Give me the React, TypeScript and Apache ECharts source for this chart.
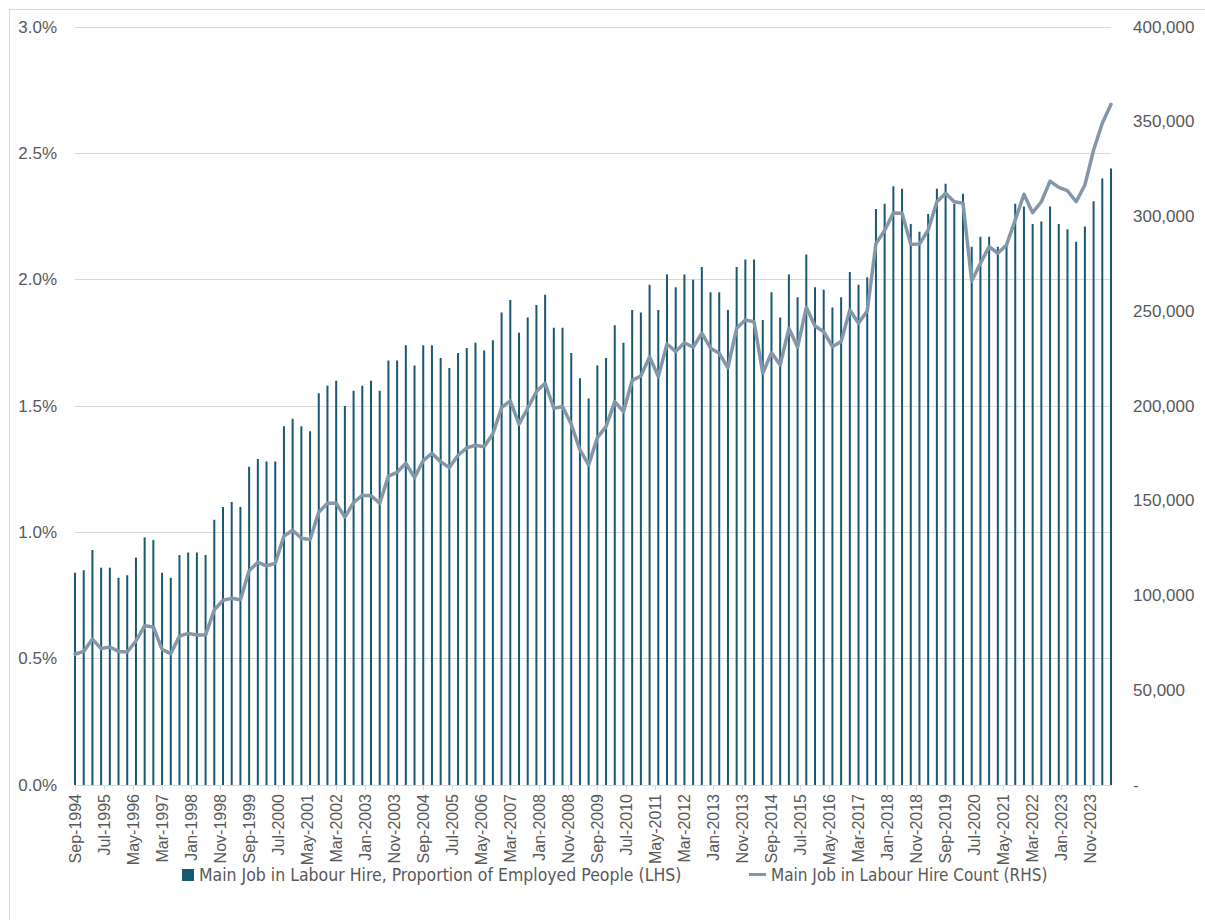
import React, { useEffect, useRef } from "react";
import * as echarts from "echarts";

// Month categories (monthly date axis), Sep-1994 .. Jun-2024
const MONTH_NAMES = ["Jan", "Feb", "Mar", "Apr", "May", "Jun", "Jul", "Aug", "Sep", "Oct", "Nov", "Dec"];
const START_YEAR = 1994;
const START_MONTH = 8; // Sep
const MONTH_COUNT = 358;

// Quarterly values (Sep-1994 .. Jun-2024)
const proportionPct = [
  0.84, 0.85, 0.93, 0.86, 0.86, 0.82, 0.83, 0.9, 0.98, 0.97,
  0.84, 0.82, 0.91, 0.92, 0.92, 0.91, 1.05, 1.1, 1.12, 1.1,
  1.26, 1.29, 1.28, 1.28, 1.42, 1.45, 1.42, 1.4, 1.55, 1.58,
  1.6, 1.5, 1.56, 1.58, 1.6, 1.56, 1.68, 1.68, 1.74, 1.66,
  1.74, 1.74, 1.69, 1.65, 1.71, 1.73, 1.75, 1.72, 1.76, 1.87,
  1.92, 1.79, 1.85, 1.9, 1.94, 1.81, 1.81, 1.71, 1.61, 1.53,
  1.66, 1.69, 1.82, 1.75, 1.88, 1.87, 1.98, 1.88, 2.02, 1.97,
  2.02, 2.0, 2.05, 1.95, 1.95, 1.88, 2.05, 2.08, 2.08, 1.84,
  1.95, 1.85, 2.02, 1.93, 2.1, 1.97, 1.96, 1.89, 1.93, 2.03,
  1.98, 2.01, 2.28, 2.3, 2.37, 2.36, 2.22, 2.19, 2.26, 2.36,
  2.38, 2.3, 2.34, 2.13, 2.17, 2.17, 2.13, 2.14, 2.3, 2.29,
  2.22, 2.23, 2.29, 2.22, 2.2, 2.15, 2.21, 2.31, 2.4, 2.44,
];

const labourHireCount = [
  69000, 70500, 77000, 72000, 72800, 70500, 70200, 76000, 84000, 83400,
  71600, 69300, 78600, 80000, 79200, 79200, 92400, 97500, 98500, 97800,
  113000, 117500, 115600, 117000, 131400, 134400, 130200, 129500, 143900, 148700,
  148700, 141400, 149000, 152900, 152700, 148700, 163000, 165000, 169800, 162200,
  171200, 175000, 170600, 167500, 174000, 177900, 179300, 178500, 185400, 199100,
  202700, 190400, 198800, 207600, 212000, 198800, 199700, 190400, 176800, 168900,
  183300, 189100, 202300, 197000, 213500, 215800, 226000, 215500, 232700, 228700,
  233400, 231000, 238400, 230500, 227800, 220200, 241000, 245400, 244500, 217300,
  228100, 221700, 241000, 231000, 252100, 242200, 239200, 231300, 234000, 250700,
  243700, 250100, 285700, 292600, 301900, 301700, 285300, 285500, 292900, 307800,
  312200, 307800, 307000, 266000, 275300, 284100, 280600, 285000, 298200, 311700,
  302000, 307800, 318700, 315400, 313600, 307800, 316600, 335100, 349200, 359200,
];

const BAR_NAME = "Main Job in Labour Hire, Proportion of Employed People (LHS)";
const LINE_NAME = "Main Job in Labour Hire Count (RHS)";

const monthCategories: string[] = [];
for (let k = 0; k < MONTH_COUNT; k++) {
  const m = START_MONTH + k;
  const year = START_YEAR + Math.floor(m / 12);
  monthCategories.push(MONTH_NAMES[m % 12] + "-" + year);
}

const barData: (number | null)[] = monthCategories.map(() => null);
const lineData: (number | null)[] = monthCategories.map(() => null);
proportionPct.forEach((v, q) => {
  barData[q * 3] = v;
});
labourHireCount.forEach((v, q) => {
  lineData[q * 3] = v;
});

const BAR_COLOR = "#195873";
const LINE_COLOR = "#8497a9";
const TEXT_COLOR = "#595959";
const GRID_COLOR = "#d9d9d9";
const FONT = "'Liberation Sans', Arial, sans-serif";
const NARROW_FONT = "'Liberation Sans Narrow', 'Arial Narrow', 'DejaVu Sans Condensed', sans-serif";

export default function App() {
  const ref = useRef<HTMLDivElement>(null);

  useEffect(() => {
    if (!ref.current) return;
    const chart = echarts.init(ref.current, null, { renderer: "svg" });
    chart.setOption({
      animation: false,
      backgroundColor: "#ffffff",
      graphic: [
        {
          type: "rect",
          left: 7,
          top: 7,
          shape: { x: 0, y: 0, width: 1300, height: 1000 },
          style: { fill: "none", stroke: GRID_COLOR, lineWidth: 1 },
          silent: true,
        },
      ],
      grid: { left: 75, right: 94, top: 27, bottom: 135, containLabel: false },
      legend: [
        {
          data: [BAR_NAME],
          left: 177,
          top: 861,
          icon: "rect",
          itemWidth: 12,
          itemHeight: 12,
          textStyle: { color: TEXT_COLOR, fontSize: 17.5, fontFamily: NARROW_FONT },
        },
        {
          data: [{ name: LINE_NAME, icon: "rect", itemStyle: { color: LINE_COLOR } }],
          left: 744,
          top: 861,
          itemWidth: 17,
          itemHeight: 3,
          textStyle: { color: TEXT_COLOR, fontSize: 17, fontFamily: NARROW_FONT },
        },
      ],
      xAxis: {
        type: "category",
        data: monthCategories,
        boundaryGap: false,
        axisLine: { show: true, lineStyle: { color: GRID_COLOR, width: 1 } },
        axisTick: { show: true, interval: 9, length: 5, lineStyle: { color: GRID_COLOR } },
        axisLabel: {
          interval: 9,
          rotate: 90,
          margin: 9,
          color: TEXT_COLOR,
          fontSize: 16,
          fontFamily: FONT,
        },
        splitLine: { show: false },
      },
      yAxis: [
        {
          type: "value",
          min: 0,
          max: 3,
          interval: 0.5,
          position: "left",
          axisLine: { show: false },
          axisTick: { show: false },
          axisLabel: {
            margin: 18,
            color: TEXT_COLOR,
            fontSize: 17,
            fontFamily: FONT,
            formatter: (v: number) => v.toFixed(1) + "%",
          },
          splitLine: { show: true, lineStyle: { color: GRID_COLOR, width: 1 } },
        },
        {
          type: "value",
          min: 0,
          max: 400000,
          interval: 50000,
          position: "right",
          axisLine: { show: false },
          axisTick: { show: false },
          axisLabel: {
            margin: 22,
            color: TEXT_COLOR,
            fontSize: 17,
            fontFamily: FONT,
            formatter: (v: number) => (v === 0 ? "-" : v.toLocaleString("en-US")),
          },
          splitLine: { show: false },
        },
      ],
      series: [
        {
          name: BAR_NAME,
          type: "bar",
          yAxisIndex: 0,
          data: barData,
          barWidth: 2,
          itemStyle: { color: BAR_COLOR },
          z: 2,
        },
        {
          name: LINE_NAME,
          type: "line",
          yAxisIndex: 1,
          data: lineData,
          connectNulls: true,
          showSymbol: false,
          symbol: "none",
          lineStyle: { color: LINE_COLOR, width: 3.5, join: "round", cap: "round" },
          itemStyle: { color: LINE_COLOR },
          z: 3,
        },
      ],
    });
    return () => chart.dispose();
  }, []);

  return (
    <div
      ref={ref}
      style={{ position: "absolute", left: 0, top: 0, width: 1205, height: 920 }}
    />
  );
}
